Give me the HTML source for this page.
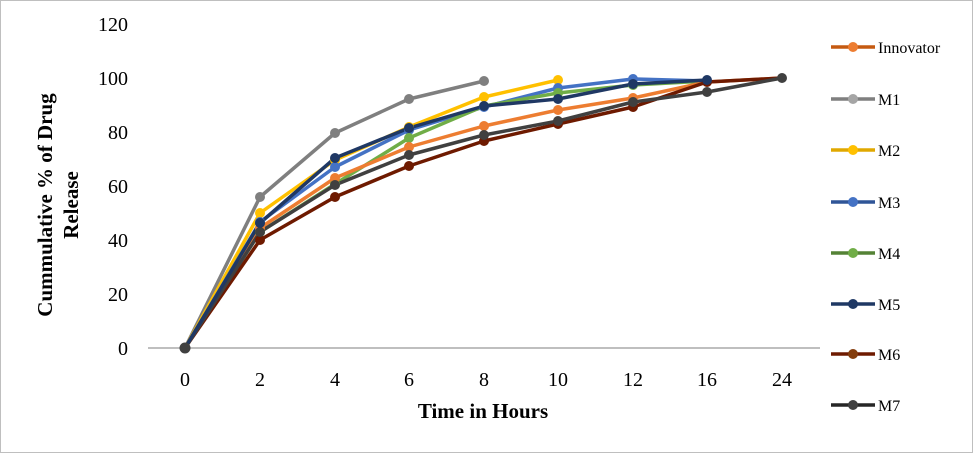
<!DOCTYPE html>
<html><head><meta charset="utf-8"><style>
html,body{margin:0;padding:0;background:#fff;}
svg{display:block;font-family:"Liberation Serif",serif;}
</style></head><body>
<svg width="973" height="453" viewBox="0 0 973 453" xmlns="http://www.w3.org/2000/svg">
<rect x="0.5" y="0.5" width="972" height="452" fill="#fff" stroke="#bfbfbf"/>
<line x1="148" y1="348" x2="820" y2="348" stroke="#bfbfbf" stroke-width="2"/>
<g font-size="20" fill="#000" text-anchor="end">
<text x="128" y="355">0</text><text x="128" y="301">20</text><text x="128" y="247">40</text>
<text x="128" y="193">60</text><text x="128" y="139">80</text><text x="128" y="85">100</text><text x="128" y="31">120</text>
</g>
<g font-size="20" fill="#000" text-anchor="middle">
<text x="185" y="386">0</text><text x="260" y="386">2</text><text x="335" y="386">4</text><text x="409" y="386">6</text>
<text x="484" y="386">8</text><text x="558" y="386">10</text><text x="633" y="386">12</text><text x="707" y="386">16</text><text x="782" y="386">24</text>
</g>
<text x="483" y="418" font-size="21" font-weight="bold" text-anchor="middle">Time in Hours</text>
<g transform="translate(52,205) rotate(-90)" font-size="21" font-weight="bold" text-anchor="middle">
<text x="0" y="0">Cummulative % of Drug</text><text x="0" y="26">Release</text>
</g>
<g fill="none" stroke-width="3.5" stroke-linejoin="round">
<polyline stroke="#7f7f7f" points="185,348 260,197 335,133 409,99 484,81"/>
<polyline stroke="#ffc000" points="185,348 260,213 335,160 409,127 484,97 558,80"/>
<polyline stroke="#4472c4" points="185,348 260,222 335,167 409,130 484,107 558,88 633,79 707,81"/>
<polyline stroke="#70ad47" points="185,348 260,232 335,184 409,138 484,106 558,93 633,85 707,81"/>
<polyline stroke="#ed7d31" points="185,348 260,228 335,178 409,147 484,126 558,110 633,98 707,82 782,78"/>
<polyline stroke="#6e1a00" points="185,348 260,240 335,197 409,166 484,141 558,124 633,107 707,82 782,78"/>
<polyline stroke="#404040" points="185,348 260,232 335,185 409,155 484,135 558,121 633,102 707,92 782,78"/>
<polyline stroke="#1f3864" points="185,348 260,223 335,158 409,128 484,106 558,99 633,84 707,80"/>
</g>
<g stroke="none">
<g fill="#7f7f7f"><circle cx="260" cy="197" r="5"/><circle cx="335" cy="133" r="5"/><circle cx="409" cy="99" r="5"/><circle cx="484" cy="81" r="5"/></g>
<g fill="#ffc000"><circle cx="260" cy="213" r="5"/><circle cx="335" cy="160" r="5"/><circle cx="409" cy="127" r="5"/><circle cx="484" cy="97" r="5"/><circle cx="558" cy="80" r="5"/></g>
<g fill="#4472c4"><circle cx="260" cy="222" r="5"/><circle cx="335" cy="167" r="5"/><circle cx="409" cy="130" r="5"/><circle cx="484" cy="107" r="5"/><circle cx="558" cy="88" r="5"/><circle cx="633" cy="79" r="5"/></g>
<g fill="#70ad47"><circle cx="260" cy="232" r="5"/><circle cx="335" cy="184" r="5"/><circle cx="409" cy="138" r="5"/><circle cx="558" cy="93" r="5"/><circle cx="633" cy="85" r="5"/></g>
<g fill="#ed7d31"><circle cx="260" cy="228" r="5"/><circle cx="335" cy="178" r="5"/><circle cx="409" cy="147" r="5"/><circle cx="484" cy="126" r="5"/><circle cx="558" cy="110" r="5"/><circle cx="633" cy="98" r="5"/></g>
<g fill="#6e1a00"><circle cx="260" cy="240" r="5"/><circle cx="335" cy="197" r="5"/><circle cx="409" cy="166" r="5"/><circle cx="484" cy="141" r="5"/><circle cx="558" cy="124" r="5"/><circle cx="633" cy="107" r="5"/><circle cx="707" cy="82" r="5"/></g>
<g fill="#404040"><circle cx="260" cy="232" r="5"/><circle cx="335" cy="185" r="5"/><circle cx="409" cy="155" r="5"/><circle cx="484" cy="135" r="5"/><circle cx="558" cy="121" r="5"/><circle cx="633" cy="102" r="5"/><circle cx="707" cy="92" r="5"/><circle cx="782" cy="78" r="5"/></g>
<g fill="#1f3864"><circle cx="260" cy="223" r="5"/><circle cx="335" cy="158" r="5"/><circle cx="409" cy="128" r="5"/><circle cx="484" cy="106" r="5"/><circle cx="558" cy="99" r="5"/><circle cx="633" cy="84" r="5"/><circle cx="707" cy="80" r="5"/></g>
<circle cx="185" cy="348" r="5.5" fill="#404040"/>
</g>
<g font-size="16" fill="#000">
<g><line x1="831" y1="47" x2="875" y2="47" stroke="#c55a11" stroke-width="3.5"/><circle cx="853" cy="47" r="5" fill="#ed7d31"/><text x="878" y="53">Innovator</text></g>
<g><line x1="831" y1="99" x2="875" y2="99" stroke="#7f7f7f" stroke-width="3.5"/><circle cx="853" cy="99" r="5" fill="#a5a5a5"/><text x="878" y="105">M1</text></g>
<g><line x1="831" y1="150" x2="875" y2="150" stroke="#e0a800" stroke-width="3.5"/><circle cx="853" cy="150" r="5" fill="#ffc000"/><text x="878" y="156">M2</text></g>
<g><line x1="831" y1="202" x2="875" y2="202" stroke="#2f5597" stroke-width="3.5"/><circle cx="853" cy="202" r="5" fill="#4472c4"/><text x="878" y="208">M3</text></g>
<g><line x1="831" y1="253" x2="875" y2="253" stroke="#548235" stroke-width="3.5"/><circle cx="853" cy="253" r="5" fill="#70ad47"/><text x="878" y="259">M4</text></g>
<g><line x1="831" y1="304" x2="875" y2="304" stroke="#1f3864" stroke-width="3.5"/><circle cx="853" cy="304" r="5" fill="#1f3864"/><text x="878" y="310">M5</text></g>
<g><line x1="831" y1="354" x2="875" y2="354" stroke="#6e1a00" stroke-width="3.5"/><circle cx="853" cy="354" r="5" fill="#843c0c"/><text x="878" y="360">M6</text></g>
<g><line x1="831" y1="405" x2="875" y2="405" stroke="#262626" stroke-width="3.5"/><circle cx="853" cy="405" r="5" fill="#404040"/><text x="878" y="411">M7</text></g>
</g>
</svg>
</body></html>
